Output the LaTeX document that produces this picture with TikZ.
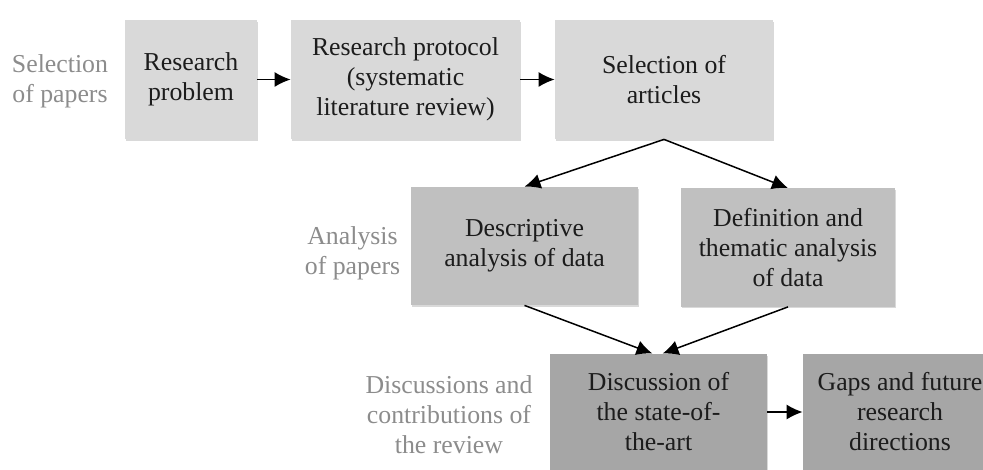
\documentclass[tikz,border=0pt]{standalone}
\usepackage{fontspec}
\setmainfont{Liberation Serif}
\usepackage{xcolor}
\definecolor{Col1}{RGB}{217,217,217}
\definecolor{Col2}{RGB}{192,192,192}
\definecolor{Col3}{RGB}{166,166,166}
\definecolor{Col4}{RGB}{28,28,28}
\definecolor{Col5}{RGB}{140,140,140}
\usetikzlibrary{shadows}
\usetikzlibrary{arrows.meta}
\tikzstyle{Box}=[rectangle,inner sep=0pt,align=center,text=Col4,
font=\fontsize{12.9}{15}\selectfont,
drop shadow={shadow xshift=0.4pt,shadow yshift=-0.8pt,opacity=0.3}]
\tikzstyle{BoxA}=[Box,fill=Col1,minimum height=59.5pt]
\tikzstyle{BoxB}=[Box,fill=Col2,minimum height=59pt]
\tikzstyle{BoxC}=[Box,fill=Col3,minimum height=58pt]
\tikzstyle{Label}=[align=center,text=Col5,inner sep=0pt,
font=\fontsize{12.9}{15}\selectfont]
\tikzstyle{Edge}=[draw=black,line width=0.75pt,
-{Latex[length=8pt,width=7.5pt]}]

\begin{document}
\begin{tikzpicture}[x=0.5pt,y=0.5pt]
            \useasboundingbox(0,0)rectangle(983,-470);
            \node[BoxA,minimum width=66pt](1)at(191,-79.5)
                {Research\\problem};
            \node[BoxA,minimum width=114.5pt](2)at(405.5,-79.5)
                {Research protocol\\(systematic\\literature review)};
            \node[BoxA,minimum width=109pt](3)at(664,-79.5)
                {Selection of\\articles};
            \node[BoxB,minimum width=113.5pt](4)at(524.5,-246)
                {Descriptive\\analysis of data};
            \node[BoxB,minimum width=107pt](5)at(788,-247.5)
                {Definition and\\thematic analysis\\of data};
            \node[BoxC,minimum width=108.5pt](6)at(658.5,-412)
                {Discussion of\\the state-of-\\the-art};
            \node[BoxC,minimum width=97pt](7)at(900,-412)
                {Gaps and future\\research\\directions};
            \node[Label](L1)at(60,-81){Selection\\of papers};
            \node[Label](L2)at(352.5,-253){Analysis\\of papers};
            \node[Label](L3)at(449,-415)
                {Discussions and\\contributions of\\the review};
            \draw[Edge](1)--(2);
            \draw[Edge](2)--(3);
            \draw[Edge](3.south)--(4.north);
            \draw[Edge](3.south)--(5.north);
            \draw[Edge](4.south)--([xshift=-3pt]6.north);
            \draw[Edge](5.south)--([xshift=2pt]6.north);
            \draw[Edge](6)--(7);
        \end{tikzpicture}
\end{document}
